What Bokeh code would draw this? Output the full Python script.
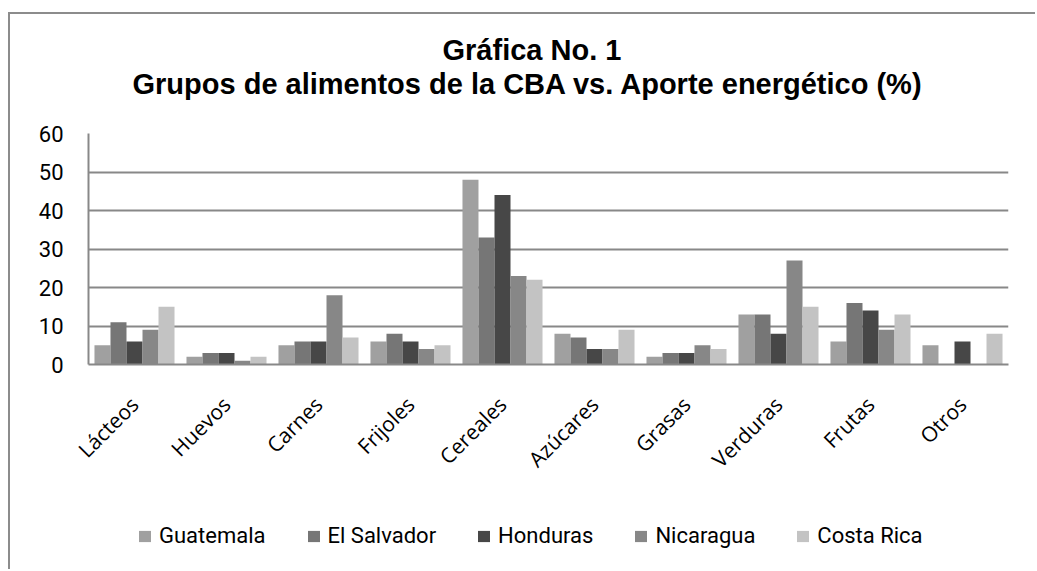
import math
from bokeh.plotting import figure
from bokeh.layouts import column
from bokeh.models import (ColumnDataSource, FactorRange, Range1d, FixedTicker, Title,
                          Legend, LegendItem)
from bokeh.transform import dodge
from bokeh.embed import file_html
from bokeh.resources import INLINE

categories = ["Lácteos", "Huevos", "Carnes", "Frijoles", "Cereales",
              "Azúcares", "Grasas", "Verduras", "Frutas", "Otros"]
series_names = ["Guatemala", "El Salvador", "Honduras", "Nicaragua", "Costa Rica"]
guatemala = [5, 2, 5, 6, 48, 8, 2, 13, 6, 5]
el_salvador = [11, 3, 6, 8, 33, 7, 3, 13, 16, 0]
honduras = [6, 3, 6, 6, 44, 4, 3, 8, 14, 6]
nicaragua = [9, 1, 18, 4, 23, 4, 5, 27, 9, 0]
costa_rica = [15, 2, 7, 5, 22, 9, 4, 15, 13, 8]
y_ticks = [0, 10, 20, 30, 40, 50, 60]
title_line1 = "Gráfica No. 1"
title_line2 = "Grupos de alimentos de la CBA vs. Aporte energético (%)"

colors = ["#a0a0a0", "#767676", "#474747", "#878787", "#c3c3c3"]

source = ColumnDataSource(dict(cat=categories, g=guatemala, s=el_salvador,
                               h=honduras, n=nicaragua, c=costa_rica))
keys = ["g", "s", "h", "n", "c"]

p = figure(width=1025, height=490, output_backend="svg", toolbar_location=None,
           x_range=FactorRange(*categories, range_padding=0), y_range=Range1d(0, 60),
           min_border_left=78, min_border_right=27, min_border_top=119, min_border_bottom=140)

bw = 0.174
for i, (k, col) in enumerate(zip(keys, colors)):
    p.vbar(x=dodge("cat", (i - 2) * bw, range=p.x_range), top=k, width=bw,
           source=source, fill_color=col, line_color=None)

p.outline_line_color = None
p.background_fill_color = "white"
p.border_fill_color = "white"
p.xgrid.grid_line_color = None
p.ygrid.grid_line_color = "#888888"
p.ygrid.grid_line_width = 2
p.yaxis.ticker = FixedTicker(ticks=y_ticks)

for ax in (p.xaxis[0], p.yaxis[0]):
    ax.axis_line_color = "#888888"
    ax.axis_line_width = 2
    ax.major_tick_line_color = None
    ax.minor_tick_line_color = None
    ax.major_label_text_color = "black"

p.yaxis.major_label_text_font = "Roboto"
p.yaxis.major_label_text_font_size = "22px"
p.yaxis.major_label_standoff = 19

p.xaxis.major_label_orientation = math.pi / 4
p.xaxis.major_label_text_font = "Open Sans"
p.xaxis.major_label_text_font_size = "21px"
p.xaxis.major_label_standoff = 30

# two title lines, stacked above the frame (first added is nearest the frame)
t2 = Title(text=title_line2, align="left", offset=44, standoff=67,
           text_font="Liberation Sans", text_font_style="bold", text_font_size="29px",
           text_color="black")
t1 = Title(text=title_line1, align="left", offset=354, standoff=-67,
           text_font="Liberation Sans", text_font_style="bold", text_font_size="29px",
           text_color="black")
p.add_layout(t2, "above")
p.add_layout(t1, "above")

# legend strip below the chart (hidden copies of the series supply the swatches)
p2 = figure(width=1025, height=65, output_backend="svg", toolbar_location=None,
            x_range=p.x_range, y_range=Range1d(0, 60), x_axis_type=None, y_axis_type=None,
            min_border=0)
p2.outline_line_color = None
p2.xgrid.grid_line_color = None
p2.ygrid.grid_line_color = None
swatches = []
for i, (k, col) in enumerate(zip(keys, colors)):
    r = p2.vbar(x=dodge("cat", (i - 2) * bw, range=p.x_range), top=k, width=bw,
                source=source, fill_color=col, line_color=None, visible=False)
    swatches.append(r)

legend = Legend(items=[LegendItem(label=n, renderers=[r]) for n, r in zip(series_names, swatches)],
                orientation="horizontal", location=(49, 21),
                label_text_font="Roboto", label_text_font_size="22px", label_text_color="black",
                glyph_width=15, glyph_height=14, label_standoff=7, spacing=40,
                padding=0, margin=0, border_line_color=None, background_fill_alpha=0)
p2.add_layout(legend, "center")

layout = column(p, p2, spacing=0,
                styles={"margin-left": "8px", "margin-top": "12px",
                        "border-top": "2px solid #8c8c8c", "border-left": "2px solid #8c8c8c"})

open("out.html", "w").write(file_html(layout, INLINE))
